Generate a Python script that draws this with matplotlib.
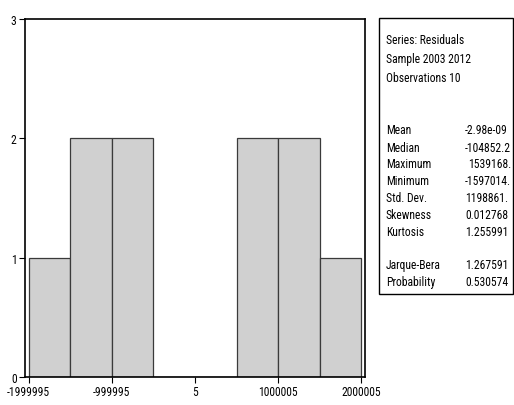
import matplotlib
matplotlib.use("Agg")
import matplotlib.pyplot as plt
from matplotlib.patches import Rectangle
from matplotlib import font_manager

# Data
bin_edges = [-1999995, -1499995, -999995, -499995, 5, 500005, 1000005, 1500005, 2000005]
counts = [1, 2, 2, 0, 0, 2, 2, 1]
xtick_vals = [-1999995, -999995, 5, 1000005, 2000005]
xtick_labels = ["-1999995", "-999995", "5", "1000005", "2000005"]
ytick_vals = [0, 1, 2, 3]
header_lines = ["Series: Residuals", "Sample 2003 2012", "Observations 10"]
stat_names = ["Mean", "Median", "Maximum", "Minimum", "Std. Dev.", "Skewness", "Kurtosis"]
stat_values = ["-2.98e-09", "-104852.2", "1539168.", "-1597014.", "1198861.", "0.012768", "1.255991"]
stat_offsets = [0, 0, 3, 0, 0, 0, 0]
test_names = ["Jarque-Bera", "Probability"]
test_values = ["1.267591", "0.530574"]

# choose a narrow font if one is available
names = {f.name for f in font_manager.fontManager.ttflist}
stretch = 'normal'
family = 'Liberation Sans'
for cand in ['Liberation Sans Narrow', 'Arial Narrow', 'Roboto Condensed',
             'Open Sans Condensed', 'Noto Sans Condensed']:
    if cand in names:
        family = cand
        break
else:
    cond = [f for f in font_manager.fontManager.ttflist
            if f.name in ('DejaVu Sans', 'Noto Sans', 'Open Sans', 'Roboto')
            and 'Condensed' in f.fname]
    if cond:
        family = cond[0].name
        stretch = 'condensed'

plt.rcParams['font.family'] = [family, 'DejaVu Sans']
plt.rcParams['font.stretch'] = stretch

W, H = 514, 406
fig = plt.figure(figsize=(W / 100, H / 100), dpi=100)
renderer = fig.canvas.get_renderer()

def fx(px):
    return px / W

def fy(py):
    return 1 - py / H

def size_for(text, target_px, start=10.0):
    t = fig.text(0, 0, text, fontsize=start)
    w = t.get_window_extent(renderer).width
    t.remove()
    return min(start * target_px / w, 10.5)

fs = min(size_for("Series: Residuals", 88), size_for("-104852.2", 46))
fs_tick = size_for("-1999995", 43)

ax = fig.add_axes([fx(25), fy(378), (365 - 25) / W, (378 - 20) / H])
lefts = bin_edges[:-1]
widths = [bin_edges[i + 1] - bin_edges[i] for i in range(len(counts))]
ax.bar(lefts, counts, width=widths, align='edge', color='#d0d0d0',
       edgecolor='#3a3a3a', linewidth=0.9)
ax.set_xlim(-2045000, 2045000)
ax.set_ylim(0, 3)
ax.set_xticks(xtick_vals)
ax.set_xticklabels(xtick_labels, fontsize=fs_tick)
ax.set_yticks(ytick_vals)
ax.set_yticklabels([str(v) for v in ytick_vals], fontsize=fs_tick)
ax.tick_params(direction='out', length=4, width=0.8, pad=2)
for s in ax.spines.values():
    s.set_linewidth(1.2)
    s.set_color('black')

# Stats box
box = Rectangle((fx(379), fy(295)), (513 - 379) / W, (295 - 19) / H,
                transform=fig.transFigure, fill=False, edgecolor='black', linewidth=1.0)
fig.patches.append(box)

xl = fx(386)
y = 40
for line in header_lines:
    fig.text(xl, fy(y), line, fontsize=fs, va='center', ha='left')
    y += 19.5
y = 131
for n, v, o in zip(stat_names, stat_values, stat_offsets):
    fig.text(xl, fy(y), n, fontsize=fs, va='center', ha='left')
    fig.text(fx(465 + o), fy(y), v, fontsize=fs, va='center', ha='left')
    y += 17
y = 266
for n, v in zip(test_names, test_values):
    fig.text(xl, fy(y), n, fontsize=fs, va='center', ha='left')
    fig.text(fx(465), fy(y), v, fontsize=fs, va='center', ha='left')
    y += 17

fig.savefig("out.png", dpi=100)
